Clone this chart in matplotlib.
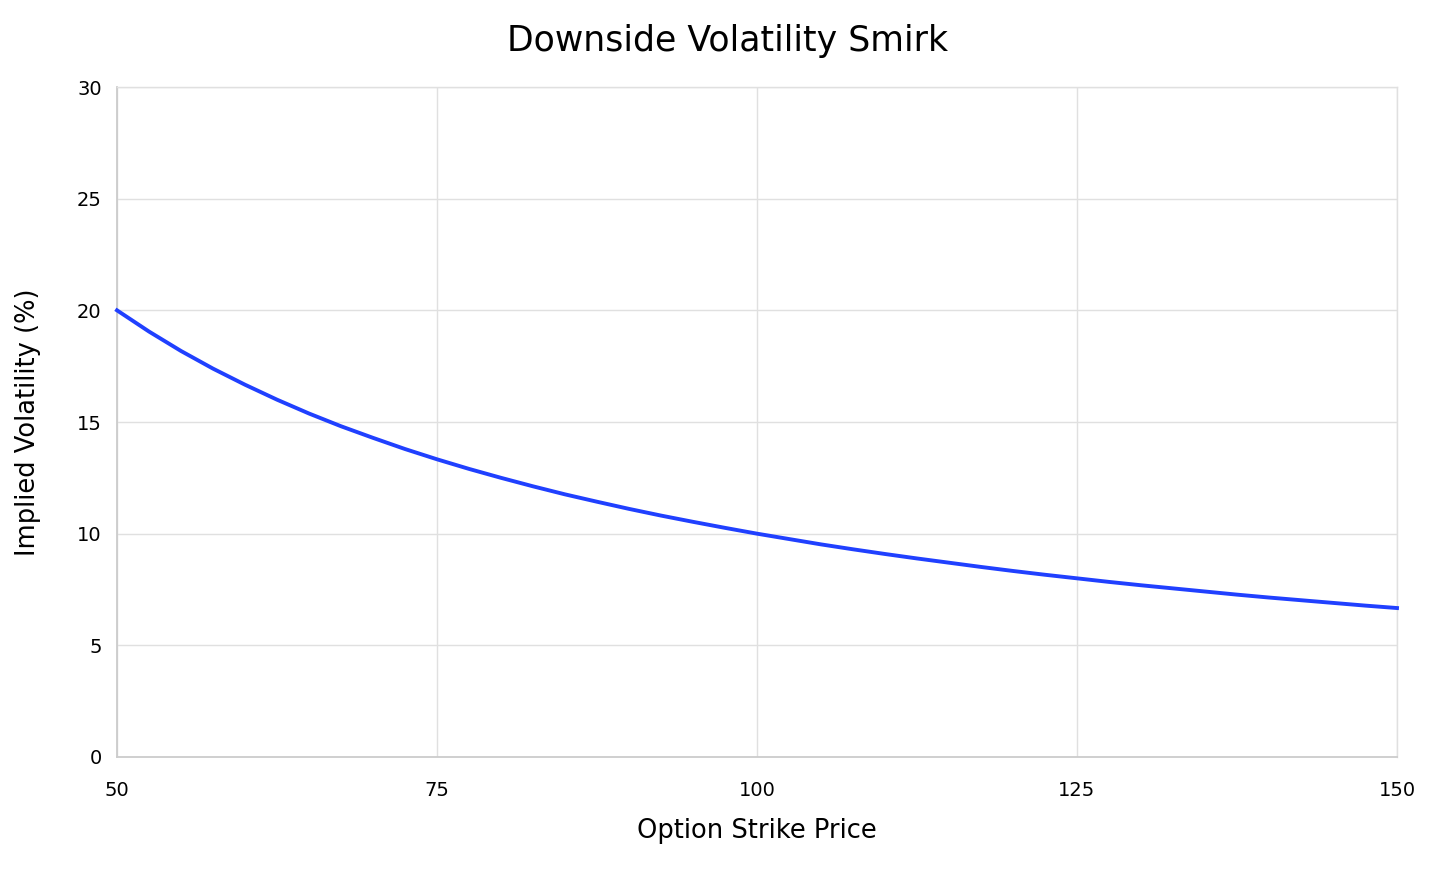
import matplotlib.pyplot as plt

# strike prices and the implied volatility
strikes = [50, 52.5, 55, 57.5, 60, 62.5, 65, 67.5, 70, 72.5, 75, 77.5, 80, 82.5,
           85, 87.5, 90, 92.5, 95, 97.5, 100, 102.5, 105, 107.5, 110, 112.5, 115,
           117.5, 120, 122.5, 125, 127.5, 130, 132.5, 135, 137.5, 140, 142.5, 145,
           147.5, 150]
implied_vol = [20.00, 19.05, 18.18, 17.39, 16.67, 16.00, 15.38, 14.81, 14.29, 13.79,
               13.33, 12.90, 12.50, 12.12, 11.76, 11.43, 11.11, 10.81, 10.53, 10.26,
               10.00, 9.76, 9.52, 9.30, 9.09, 8.89, 8.70, 8.51, 8.33, 8.16,
               8.00, 7.84, 7.69, 7.55, 7.41, 7.27, 7.14, 7.02, 6.90, 6.78, 6.67]

x_ticks = [50, 75, 100, 125, 150]
y_ticks = [0, 5, 10, 15, 20, 25, 30]

fig = plt.figure(figsize=(14.56, 8.74), dpi=100)
ax = fig.add_axes([117 / 1456, 1 - 757 / 874, 1280 / 1456, 670 / 874])

ax.plot(strikes, implied_vol, color='#2040ff', linewidth=2.8, zorder=3,
        solid_joinstyle='round', clip_on=False)

ax.set_xlim(50, 150)
ax.set_ylim(0, 30)
ax.set_xticks(x_ticks)
ax.set_yticks(y_ticks)
ax.grid(True, color='#e0e0e0', linewidth=1.0)
ax.set_axisbelow(True)

for side in ['left', 'bottom']:
    ax.spines[side].set_color('#cccccc')
    ax.spines[side].set_linewidth(1.3)
for side in ['top', 'right']:
    ax.spines[side].set_color('#e0e0e0')
    ax.spines[side].set_linewidth(1.0)

ax.tick_params(axis='both', length=0, labelsize=14)
ax.tick_params(axis='x', pad=17)
ax.tick_params(axis='y', pad=11)

ax.set_xlabel('Option Strike Price', fontsize=18.5, labelpad=13)
ax.set_ylabel('Implied Volatility (%)', fontsize=18.5, labelpad=26)
fig.suptitle('Downside Volatility Smirk', fontsize=25, y=1 - 41 / 874, va='center')

fig.savefig('out.png', dpi=100)
